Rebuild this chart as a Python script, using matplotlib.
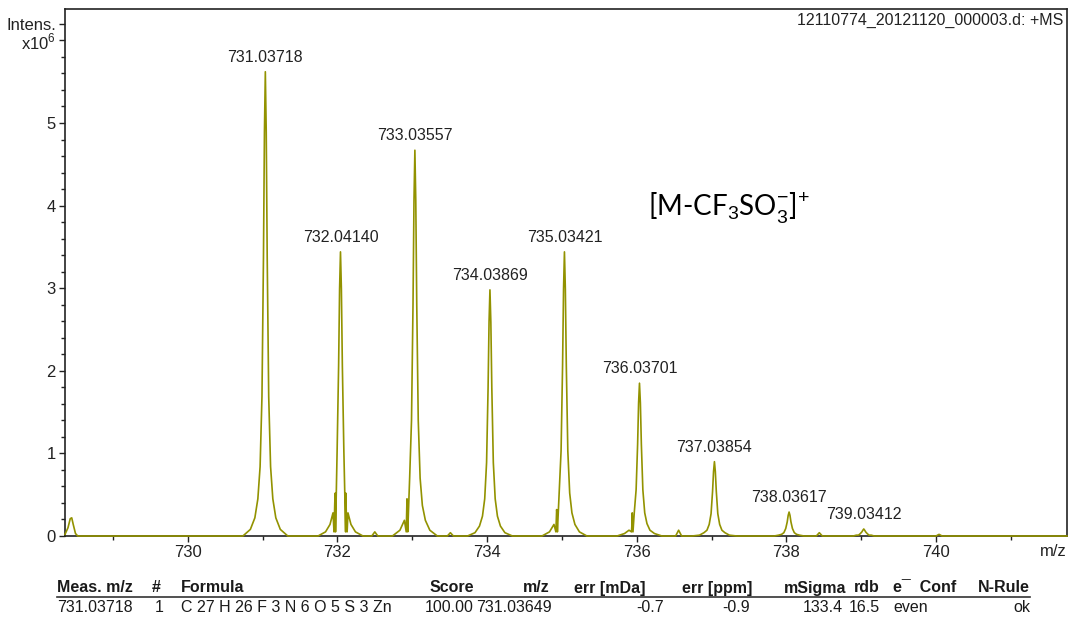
import numpy as np
import matplotlib
matplotlib.use("Agg")
import matplotlib.pyplot as plt
from matplotlib.lines import Line2D
from matplotlib.ticker import MultipleLocator

plt.rcParams['font.family'] = ['Liberation Sans', 'DejaVu Sans']
plt.rcParams['mathtext.fontset'] = 'custom'
plt.rcParams['mathtext.rm'] = 'Liberation Sans'

# m/z offsets shared by the profile of every isotope peak
profile_offsets = [-0.30, -0.20, -0.14, -0.10, -0.07, -0.045, -0.025, -0.012, 0.0,
                   0.012, 0.025, 0.045, 0.07, 0.10, 0.14, 0.20, 0.30]

# labelled isotope peaks (x10^6 intensity)
peak_mz = [731.03718, 732.04140, 733.03557, 734.03869, 735.03421,
           736.03701, 737.03854, 738.03617, 739.03412]
peak_labels = ['731.03718', '732.04140', '733.03557', '734.03869', '735.03421',
               '736.03701', '737.03854', '738.03617', '739.03412']
peak_profiles = [
    [0, .08, .22, .45, .84, 1.69, 3.37, 4.89, 5.62, 4.89, 3.37, 1.69, .84, .45, .22, .08, 0],
    [0, .05, .14, .28, .52, 1.03, 2.06, 2.99, 3.44, 2.99, 2.06, 1.03, .52, .28, .14, .05, 0],
    [0, .07, .19, .37, .70, 1.40, 2.80, 4.06, 4.67, 4.06, 2.80, 1.40, .70, .37, .19, .07, 0],
    [0, .04, .12, .24, .45, .89, 1.79, 2.59, 2.98, 2.59, 1.79, .89, .45, .24, .12, .04, 0],
    [0, .05, .14, .28, .52, 1.03, 2.06, 2.99, 3.44, 2.99, 2.06, 1.03, .52, .28, .14, .05, 0],
    [0, .03, .07, .15, .28, .56, 1.11, 1.61, 1.85, 1.61, 1.11, .56, .28, .15, .07, .03, 0],
    [0, .01, .04, .07, .14, .27, .54, .78, .90, .78, .54, .27, .14, .07, .04, .01, 0],
    [0, 0, .01, .02, .04, .09, .17, .25, .29, .25, .17, .09, .04, .02, .01, 0, 0],
    [0, 0, 0, .01, .01, .03, .05, .07, .085, .07, .05, .03, .01, .01, 0, 0, 0],
]

# small unlabelled bumps and shoulder spikes (m/z, intensity)
bump_mz = [728.36, 728.40, 728.43, 728.45, 728.47, 728.50, 728.53,
           731.955, 731.965, 731.975, 732.11, 732.12, 732.13,
           732.46, 732.50, 732.54, 732.92, 732.93, 732.94,
           733.47, 733.51, 733.55, 734.92, 734.93, 734.94,
           735.93, 735.94, 735.95, 736.52, 736.56, 736.60,
           738.40, 738.44, 738.48, 740.00, 740.04, 740.08, 741.75]
bump_int = [0.02, 0.10, 0.21, 0.22, 0.14, 0.03, 0.0,
            0.05, 0.40, 0.05, 0.05, 0.25, 0.05,
            0.0, 0.05, 0.0, 0.05, 0.45, 0.05,
            0.0, 0.04, 0.0, 0.05, 0.32, 0.05,
            0.05, 0.28, 0.05, 0.0, 0.07, 0.0,
            0.0, 0.04, 0.0, 0.0, 0.02, 0.0, 0.0]

table_header = ['Meas. m/z', '#', 'Formula', 'Score', 'm/z', 'err [mDa]', 'err [ppm]',
                'mSigma', 'rdb', 'e\u00af  Conf', 'N-Rule']
table_row = ['731.03718', '1', 'C 27 H 26 F 3 N 6 O 5 S 3 Zn', '100.00', '731.03649',
             '-0.7', '-0.9', '133.4', '16.5', 'even', 'ok']

# assemble the spectrum
mz_all = list(bump_mz)
int_all = list(bump_int)
for c, prof in zip(peak_mz, peak_profiles):
    for off, v in zip(profile_offsets, prof):
        mz_all.append(c + off)
        int_all.append(v)
order = np.argsort(mz_all, kind='stable')
mz_all = np.array(mz_all)[order]
int_all = np.array(int_all)[order]

W, H = 1073, 620
fig = plt.figure(figsize=(W / 100, H / 100), dpi=100)
ax = fig.add_axes([65 / W, 1 - 536 / H, (1067 - 65) / W, (536 - 9) / H])

line_color = '#929200'
ax.plot(mz_all, int_all, color=line_color, lw=1.2, zorder=3, clip_on=False)

ax.set_xlim(728.36, 741.75)
ax.set_ylim(0, 6.38)

ax.xaxis.set_major_locator(MultipleLocator(2))
ax.xaxis.set_minor_locator(MultipleLocator(1))
ax.set_yticks([0, 1, 2, 3, 4, 5, 6, 6.2])
ax.set_yticklabels(['0', '1', '2', '3', '4', '5', 'x10$^6$', 'Intens.'])
ax.yaxis.set_minor_locator(MultipleLocator(0.2))
ax.tick_params(axis='both', which='major', length=4.5, width=1, colors='#222222',
               labelsize=12, pad=2)
ax.tick_params(axis='both', which='minor', length=3, width=1, colors='#222222')
for s in ax.spines.values():
    s.set_color('#222222')
    s.set_linewidth(1.2)

ax.text(1.0, -0.03, 'm/z', transform=ax.transAxes, ha='right', va='center',
        fontsize=12, color='#222222')
ax.text(0.996, 0.979, '12110774_20121120_000003.d: +MS', transform=ax.transAxes,
        ha='right', va='center', fontsize=11.5, color='#222222')

for c, prof, lab in zip(peak_mz, peak_profiles, peak_labels):
    ax.annotate(lab, (c, max(prof)), xytext=(0, 5), textcoords='offset points',
                ha='center', va='bottom', fontsize=11.5, color='#222222')

ax.text(648 / W, 1 - 215 / H, r'[M-CF$_3$SO$_3^{-}$]$^{\!+}$', transform=fig.transFigure,
        fontsize=20, family='Lato', ha='left', va='baseline', color='black')

# formula table below the spectrum
col_x = [57, 152, 181, 474, 550, 645, 752, 846, 880, 893, 1030]
col_ha = ['left', 'left', 'left', 'right', 'right', 'right', 'right', 'right', 'right', 'left', 'right']
row_x = [57, 155, 181, 474, 552, 664, 750, 843, 880, 893, 1030]
for txt, x, ha in zip(table_header, col_x, col_ha):
    fig.text(x / W, 1 - 588 / H, txt, ha=ha, va='center', fontsize=11.5,
             fontweight='bold', color='#1a1a1a')
for txt, x, ha in zip(table_row, row_x, col_ha):
    fig.text(x / W, 1 - 607 / H, txt, ha=ha, va='center', fontsize=11.5, color='#1a1a1a')
fig.add_artist(Line2D([57 / W, 1030 / W], [1 - 597 / H, 1 - 597 / H],
                      transform=fig.transFigure, color='#333333', lw=1.2))

fig.savefig('out.png', dpi=100)
